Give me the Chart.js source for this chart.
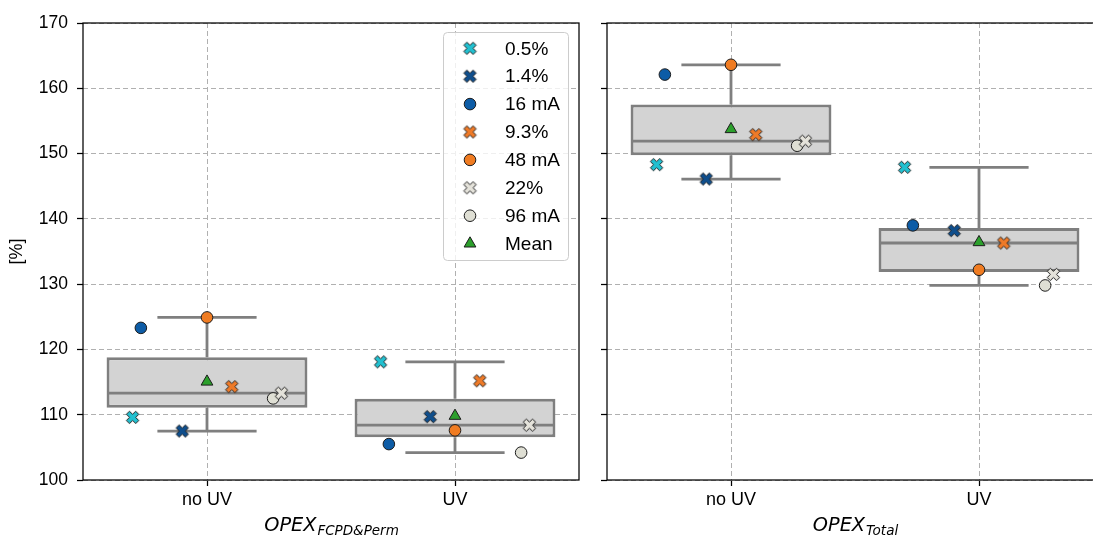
<!DOCTYPE html>
<html>
<head>
<meta charset="utf-8">
<script src="https://cdn.jsdelivr.net/npm/chart.js@4.4.1/dist/chart.umd.min.js"></script>
<style>
  html, body { margin: 0; padding: 0; background: #fff; overflow: hidden; width: 1093px; height: 538px; }
  canvas { position: absolute; top: 0; }
  #left { left: 0; }
  #right { left: 592px; }
</style>
</head>
<body>
<canvas id="left" width="592" height="538"></canvas>
<canvas id="right" width="530" height="538"></canvas>
<script>
// ---- data ----
const groups = ['no UV', 'UV'];
const seriesNames = ['0.5%', '1.4%', '16 mA', '9.3%', '48 mA', '22%', '96 mA'];
const seriesColors = ['#22c0d0', '#0f4e8c', '#0d5ca6', '#ee7a28', '#f07c22', '#e4e2da', '#dfdfd4'];
const seriesMarkers = ['x', 'x', 'o', 'x', 'o', 'x', 'o'];

// values in series order, one array per group
const fcpdNoUV  = [109.6, 107.5, 123.3, 114.3, 124.9, 113.3, 112.5];
const fcpdUV    = [118.1, 109.7, 105.5, 115.2, 107.6, 108.4, 104.2];
const totalNoUV = [148.3, 146.1, 162.1, 152.9, 163.6, 151.9, 151.2];
const totalUV   = [147.9, 138.2, 139.0, 136.3, 132.2, 131.5, 129.8];

const yTicks = [100, 110, 120, 130, 140, 150, 160, 170];

// ---- helpers ----
const BOX_GRAY = '#7f7f7f';
const BOX_FILL = '#d3d3d3';
const EDGE = '#1c1c1c';
const FONT = '"Liberation Sans", Arial, sans-serif';

function quantile(sorted, q) {
  const pos = (sorted.length - 1) * q;
  const lo = Math.floor(pos), hi = Math.ceil(pos);
  return sorted[lo] + (sorted[hi] - sorted[lo]) * (pos - lo);
}
function boxStats(vals) {
  const s = [...vals].sort((a, b) => a - b);
  const q1 = quantile(s, 0.25), med = quantile(s, 0.5), q3 = quantile(s, 0.75);
  const iqr = q3 - q1;
  const inside = s.filter(v => v >= q1 - 1.5 * iqr && v <= q3 + 1.5 * iqr);
  const mean = vals.reduce((a, b) => a + b, 0) / vals.length;
  return { q1, med, q3, lo: inside[0], hi: inside[inside.length - 1], mean };
}

// filled "X" marker drawn once per colour
function xMarker(color) {
  const c = document.createElement('canvas');
  c.width = 17; c.height = 17;
  const g = c.getContext('2d');
  const u = 3.1, cx = 8.5, cy = 8.5;
  const pts = [[-1,-2],[0,-1],[1,-2],[2,-1],[1,0],[2,1],[1,2],[0,1],[-1,2],[-2,1],[-1,0],[-2,-1]];
  g.beginPath();
  pts.forEach((p, i) => {
    const x = cx + p[0] * u, y = cy + p[1] * u;
    if (i === 0) g.moveTo(x, y); else g.lineTo(x, y);
  });
  g.closePath();
  g.fillStyle = color;
  g.fill();
  g.lineWidth = 1;
  g.strokeStyle = EDGE;
  g.lineJoin = 'miter';
  g.stroke();
  return c;
}
const markerStyles = seriesColors.map((c, i) => seriesMarkers[i] === 'x' ? xMarker(c) : 'circle');

// dodge offsets: x-markers and circles are spread separately across 0.8 of a category
function dodgeOffsets() {
  const offs = [];
  ['x', 'o'].forEach(k => {
    const idx = seriesMarkers.map((m, i) => m === k ? i : -1).filter(i => i >= 0);
    idx.forEach((si, j) => { offs[si] = -0.4 + 0.8 * (j + 0.5) / idx.length; });
  });
  return offs;
}
const offsets = dodgeOffsets();

function buildDatasets(noUV, uv) {
  const perGroup = [noUV, uv];
  const stats = perGroup.map(boxStats);
  const ds = [];
  seriesNames.forEach((name, i) => {
    ds.push({
      type: 'scatter',
      label: name,
      data: perGroup.map((vals, g) => ({ x: g + offsets[i], y: vals[i] })),
      pointStyle: markerStyles[i],
      pointRadius: seriesMarkers[i] === 'x' ? 7 : 5.8,
      backgroundColor: seriesColors[i],
      borderColor: EDGE,
      borderWidth: 1,
      order: 0
    });
  });
  ds.push({
    type: 'scatter',
    label: 'Mean',
    data: stats.map((s, g) => ({ x: g, y: s.mean })),
    pointStyle: 'triangle',
    pointRadius: 6.8,
    backgroundColor: '#2ca02c',
    borderColor: EDGE,
    borderWidth: 1,
    order: 0
  });
  // median lines
  const med = [];
  stats.forEach((s, g) => {
    med.push({ x: g - 0.4, y: s.med }, { x: g + 0.4, y: s.med }, { x: g + 0.5, y: null });
  });
  ds.push({ type: 'line', label: '_median', data: med, borderColor: BOX_GRAY, borderWidth: 2.8,
            pointRadius: 0, spanGaps: false, order: 1 });
  // whiskers and caps
  const wh = [];
  stats.forEach((s, g) => {
    wh.push({ x: g, y: s.q3 }, { x: g, y: s.hi }, { x: g, y: null });
    wh.push({ x: g, y: s.q1 }, { x: g, y: s.lo }, { x: g, y: null });
    wh.push({ x: g - 0.2, y: s.hi }, { x: g + 0.2, y: s.hi }, { x: g, y: null });
    wh.push({ x: g - 0.2, y: s.lo }, { x: g + 0.2, y: s.lo }, { x: g, y: null });
  });
  ds.push({ type: 'line', label: '_whisker', data: wh, borderColor: BOX_GRAY, borderWidth: 2.8,
            pointRadius: 0, spanGaps: false, order: 1 });
  // boxes
  ds.push({
    type: 'bar',
    label: '_box',
    data: stats.map((s, g) => ({ x: g, y: [s.q1, s.q3] })),
    backgroundColor: BOX_FILL,
    borderColor: BOX_GRAY,
    borderWidth: 3,
    borderSkipped: false,
    barPercentage: 0.81,
    categoryPercentage: 1.0,
    order: 2
  });
  return ds;
}

// frame, subscripted axis title and legend
function panelPlugin(title, sub, withLegend) {
  return {
    id: 'panelDecor',
    afterDraw(chart) {
      const { ctx, chartArea: a } = chart;
      ctx.save();
      ctx.strokeStyle = '#000';
      ctx.lineWidth = 1.25;
      ctx.strokeRect(a.left, a.top, a.right - a.left, a.bottom - a.top);

      // axis title with subscript
      const mainFont = 'italic 19.3px "DejaVu Sans", sans-serif';
      const subFont = 'italic 13.5px "DejaVu Sans", sans-serif';
      ctx.font = mainFont;
      const w1 = ctx.measureText(title).width;
      ctx.font = subFont;
      const w2 = ctx.measureText(sub).width;
      const x0 = (a.left + a.right) / 2 - (w1 + w2) / 2;
      ctx.fillStyle = '#000';
      ctx.textBaseline = 'alphabetic';
      ctx.textAlign = 'left';
      ctx.font = mainFont;
      ctx.fillText(title, x0, 531);
      ctx.font = subFont;
      ctx.fillText(sub, x0 + w1 + 1, 535);

      if (withLegend) {
        const lx = a.right - 136, ly = a.top + 9, lw = 125, lh = 228;
        ctx.beginPath();
        ctx.roundRect(lx + 0.5, ly + 0.5, lw, lh, 4);
        ctx.fillStyle = 'rgba(255,255,255,0.8)';
        ctx.fill();
        ctx.strokeStyle = '#cccccc';
        ctx.lineWidth = 1;
        ctx.stroke();
        const entries = chart.data.datasets.filter(d => d.label[0] !== '_');
        ctx.font = '19px ' + FONT;
        ctx.textBaseline = 'middle';
        entries.forEach((d, i) => {
          const y = ly + 16.3 + i * 27.9;
          ctx.fillStyle = d.backgroundColor;
          ctx.strokeStyle = d.borderColor;
          ctx.lineWidth = d.borderWidth;
          Chart.helpers.drawPoint(ctx, { pointStyle: d.pointStyle, radius: d.pointRadius, rotation: 0, borderWidth: d.borderWidth }, lx + 27, y);
          ctx.fillStyle = '#000';
          ctx.fillText(d.label, lx + 62, y + 1);
        });
      }
      ctx.restore();
    }
  };
}

function makeChart(id, noUV, uv, isLeft, title, sub) {
  const gridOpts = { color: '#b0b0b0', lineWidth: 1, borderDash: [5, 3], tickLength: 6, offset: false,
                     tickColor: '#000', tickWidth: 1.25, tickBorderDash: [] };
  return new Chart(document.getElementById(id), {
    type: 'scatter',
    data: { datasets: buildDatasets(noUV, uv) },
    options: {
      responsive: false,
      animation: false,
      events: [],
      layout: { padding: { left: 0, right: isLeft ? 13 : 19, top: 23, bottom: 0 } },
      plugins: { legend: { display: false }, tooltip: { enabled: false } },
      scales: {
        x: {
          type: 'linear',
          offset: false,
          min: -0.5, max: 1.5,
          afterBuildTicks: s => { s.ticks = groups.map((_, i) => ({ value: i })); },
          afterFit: s => { s.height = 58; },
          ticks: {
            callback: v => groups[v],
            font: { family: FONT, size: 18 },
            color: '#000',
            padding: 3,
            maxRotation: 0
          },
          grid: gridOpts,
          border: { display: false, dash: [5, 3] }
        },
        y: {
          type: 'linear',
          offset: false,
          min: 100, max: 170,
          afterBuildTicks: s => { s.ticks = yTicks.map(v => ({ value: v })); },
          afterFit: s => { s.width = isLeft ? 83 : 15; },
          ticks: {
            display: isLeft,
            font: { family: FONT, size: 17.5 },
            color: '#000',
            padding: 9
          },
          title: {
            display: isLeft,
            text: '[%]',
            font: { family: FONT, size: 18 },
            color: '#000',
            padding: { top: 6, bottom: 0 }
          },
          grid: gridOpts,
          border: { display: false, dash: [5, 3] }
        }
      }
    },
    plugins: [panelPlugin(title, sub, isLeft)]
  });
}

makeChart('left', fcpdNoUV, fcpdUV, true, 'OPEX', 'FCPD&Perm');
makeChart('right', totalNoUV, totalUV, false, 'OPEX', 'Total');
</script>
</body>
</html>
